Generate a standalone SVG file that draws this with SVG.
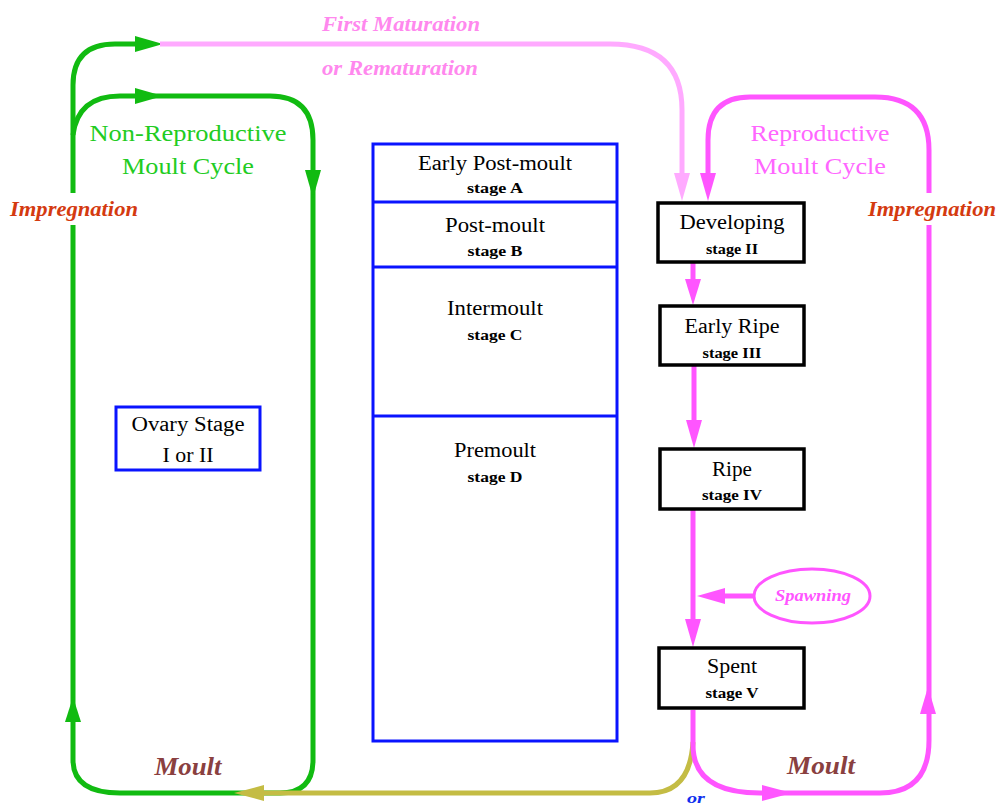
<svg xmlns="http://www.w3.org/2000/svg" width="1002" height="805" viewBox="0 0 1002 805">
<style>
.ln{fill:none;stroke-width:5;stroke-linejoin:round}
.g{stroke:#11bb11}.gf{fill:#11bb11}
.m{stroke:#ff55ff}.mf{fill:#ff55ff}
.lp{stroke:#ffaaff}.lpf{fill:#ffaaff}
.o{stroke:#c4bc44}.of{fill:#c4bc44}
.blue{fill:#fff;stroke:#0a14ff;stroke-width:3}
.blk{fill:#fff;stroke:#000;stroke-width:3.5}
.t{font-family:"Liberation Serif",serif;fill:#000;text-anchor:middle}
.h{font-size:20px}
.s{font-size:15px;font-weight:bold}
.lab{font-family:"Liberation Serif",serif;font-style:italic;font-weight:bold;text-anchor:middle}
.cy{font-family:"Liberation Serif",serif;font-size:23px;text-anchor:middle}
</style>
<rect width="1002" height="805" fill="#fff"/>
<g id="connectors">
  <path class="ln g" d="M73,193 L73,85 Q73,44 115,44 L140,44"/>
  <path class="ln g" d="M73,135 Q78,96 120,96 L270,96 Q313,96 313,140 L313,760 Q313,793 280,793 L120,793 Q73,793 73,760 L73,225"/>
  <polygon class="gf" points="163,44 135,36 135,52"/>
  <polygon class="gf" points="163,96 135,88 135,104"/>
  <polygon class="gf" points="313,198 305,170 321,170"/>
  <polygon class="gf" points="73,697 65,722 81,722"/>
  <path class="ln lp" d="M160,44 L610,44 Q682,44 682,110 L682,176"/>
  <polygon class="lpf" points="682,201 674,173 690,173"/>
  <path class="ln o" d="M693,742 Q690,793 650,793 L262,793"/>
  <polygon class="of" points="234,793 264,785 264,801"/>
  <path class="ln m" d="M708,176 L708,140 Q708,97 750,97 L875,97 Q929,97 929,150 L929,193"/>
  <polygon class="mf" points="708,201 700,173 716,173"/>
  <path class="ln m" d="M929,225 L929,740 Q929,793 880,793 L760,793 Q693,793 693,745 L693,710"/>
  <polygon class="mf" points="928,687 920,714 936,714"/>
  <polygon class="mf" points="792,793 762,785 762,801"/>
  <path class="ln m" d="M693,262 L693,284"/>
  <polygon class="mf" points="693,305 685,279 701,279"/>
  <path class="ln m" d="M694,366 L694,424"/>
  <polygon class="mf" points="694,448 686,420 702,420"/>
  <path class="ln m" d="M693,510 L693,624"/>
  <polygon class="mf" points="693,647 685,619 701,619"/>
  <path class="ln m" d="M754,596 L720,596"/>
  <polygon class="mf" points="697,596 725,588 725,604"/>
</g>
<g id="labels">
  <text class="lab" x="401" y="31" font-size="21" fill="#ff88ee" textLength="158" lengthAdjust="spacingAndGlyphs">First Maturation</text>
  <text class="lab" x="400" y="75" font-size="21" fill="#ff88ee" textLength="156" lengthAdjust="spacingAndGlyphs">or Rematuration</text>
  <text class="lab" x="74" y="216" font-size="21" fill="#d43a10" textLength="128" lengthAdjust="spacingAndGlyphs">Impregnation</text>
  <text class="lab" x="932" y="216" font-size="21" fill="#d43a10" textLength="128" lengthAdjust="spacingAndGlyphs">Impregnation</text>
  <text class="cy" x="188" y="141" fill="#22cc22" textLength="197" lengthAdjust="spacingAndGlyphs">Non-Reproductive</text>
  <text class="cy" x="188" y="174" fill="#22cc22" textLength="132" lengthAdjust="spacingAndGlyphs">Moult Cycle</text>
  <text class="cy" x="820" y="141" fill="#ff66ff" textLength="139" lengthAdjust="spacingAndGlyphs">Reproductive</text>
  <text class="cy" x="820" y="174" fill="#ff66ff" textLength="132" lengthAdjust="spacingAndGlyphs">Moult Cycle</text>
  <text class="lab" x="188" y="775" font-size="25" fill="#8a4040" textLength="67" lengthAdjust="spacingAndGlyphs">Moult</text>
  <text class="lab" x="821" y="774" font-size="25" fill="#8a4040" textLength="68" lengthAdjust="spacingAndGlyphs">Moult</text>
  <text class="lab" x="696" y="803" font-size="14" fill="#1030ee" textLength="18" lengthAdjust="spacingAndGlyphs">or</text>
</g>
<g id="moult-stages">
  <rect class="blue" x="373" y="144" width="244" height="597"/>
  <line x1="373" y1="202" x2="617" y2="202" stroke="#0a14ff" stroke-width="3"/>
  <line x1="373" y1="267" x2="617" y2="267" stroke="#0a14ff" stroke-width="3"/>
  <line x1="373" y1="416" x2="617" y2="416" stroke="#0a14ff" stroke-width="3"/>
</g>
<g id="stage-a"><text class="t h" x="495" y="170" textLength="154" lengthAdjust="spacingAndGlyphs">Early Post-moult</text><text class="t s" x="495" y="193" textLength="56" lengthAdjust="spacingAndGlyphs">stage A</text></g>
<g id="stage-b"><text class="t h" x="495" y="232" textLength="100" lengthAdjust="spacingAndGlyphs">Post-moult</text><text class="t s" x="495" y="256" textLength="55" lengthAdjust="spacingAndGlyphs">stage B</text></g>
<g id="stage-c"><text class="t h" x="495" y="315" textLength="96" lengthAdjust="spacingAndGlyphs">Intermoult</text><text class="t s" x="495" y="340" textLength="55" lengthAdjust="spacingAndGlyphs">stage C</text></g>
<g id="stage-d"><text class="t h" x="495" y="457" textLength="82" lengthAdjust="spacingAndGlyphs">Premoult</text><text class="t s" x="495" y="482" textLength="55" lengthAdjust="spacingAndGlyphs">stage D</text></g>
<g id="ovary">
  <rect class="blue" x="116" y="407" width="144" height="63"/>
  <text class="t h" x="188" y="431" textLength="113" lengthAdjust="spacingAndGlyphs">Ovary Stage</text>
  <text class="t h" x="188" y="462" textLength="51" lengthAdjust="spacingAndGlyphs">I or II</text>
</g>
<g id="developing">
  <rect class="blk" x="658" y="203" width="146" height="59"/>
  <text class="t h" x="732" y="229" textLength="105" lengthAdjust="spacingAndGlyphs">Developing</text>
  <text class="t s" x="732" y="254" textLength="52" lengthAdjust="spacingAndGlyphs">stage II</text>
</g>
<g id="early-ripe">
  <rect class="blk" x="660" y="306" width="144" height="59"/>
  <text class="t h" x="732" y="333" textLength="95" lengthAdjust="spacingAndGlyphs">Early Ripe</text>
  <text class="t s" x="732" y="358" textLength="59" lengthAdjust="spacingAndGlyphs">stage III</text>
</g>
<g id="ripe">
  <rect class="blk" x="660" y="449" width="144" height="60"/>
  <text class="t h" x="732" y="476" textLength="40" lengthAdjust="spacingAndGlyphs">Ripe</text>
  <text class="t s" x="732" y="500" textLength="60" lengthAdjust="spacingAndGlyphs">stage IV</text>
</g>
<g id="spent">
  <rect class="blk" x="659" y="648" width="145" height="60"/>
  <text class="t h" x="732" y="673" textLength="50" lengthAdjust="spacingAndGlyphs">Spent</text>
  <text class="t s" x="732" y="698" textLength="53" lengthAdjust="spacingAndGlyphs">stage V</text>
</g>
<g id="spawning">
  <ellipse cx="812" cy="596" rx="58" ry="27" fill="#fff" stroke="#ff55ff" stroke-width="3"/>
  <text class="lab" x="813" y="601" font-size="16" fill="#ff55ff" textLength="76" lengthAdjust="spacingAndGlyphs">Spawning</text>
</g>
</svg>
